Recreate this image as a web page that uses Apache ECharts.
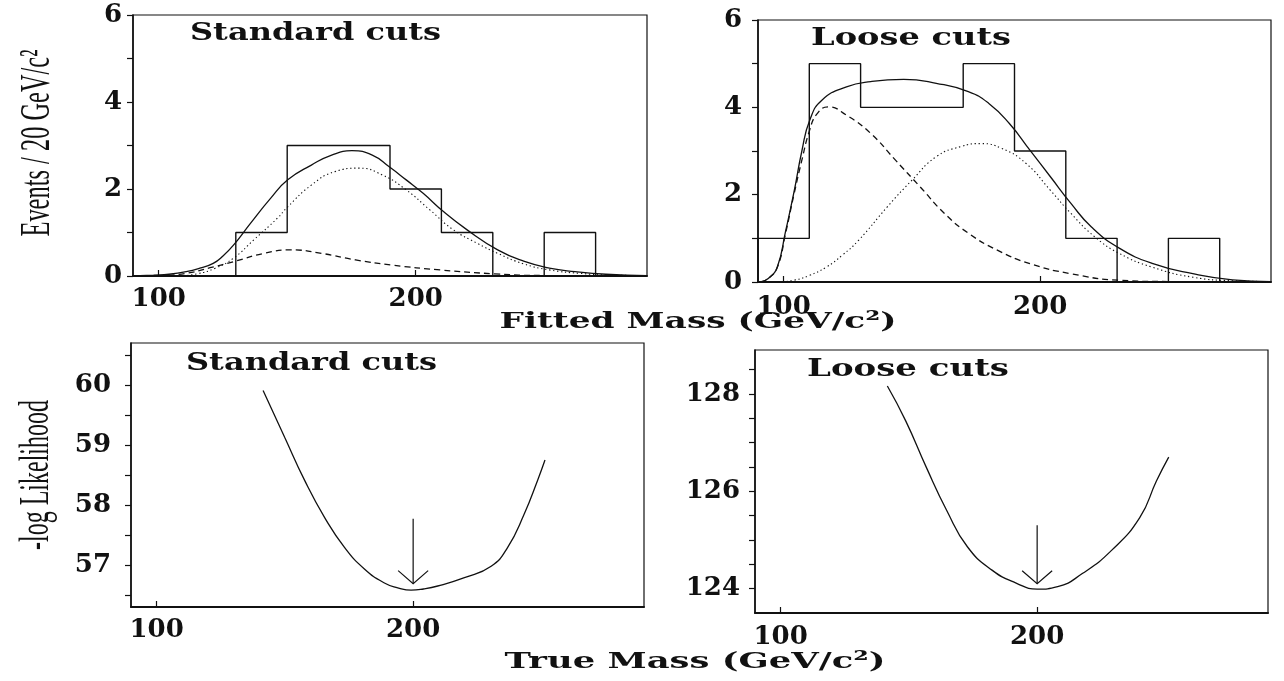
<!DOCTYPE html>
<html>
<head>
<meta charset="utf-8">
<script src="https://cdn.jsdelivr.net/npm/echarts@6/dist/echarts.min.js"></script>
<style>
  html, body { margin: 0; padding: 0; background: #fff; }
  #chart { width: 1284px; height: 681px; }
</style>
</head>
<body>
<div id="chart"></div>
<script>
// ---- Fitted-mass histograms (events per 20 GeV/c^2 bin) ----
const stdBinEdges = [130, 150, 170, 190, 210, 230, 250, 270];
const stdCounts = [1, 3, 3, 2, 1, 0, 1];
const looseBinEdges = [90, 110, 130, 150, 170, 190, 210, 230, 250, 270];
const looseCounts = [1, 5, 4, 4, 5, 3, 1, 0, 1];

// ---- Fit curves, standard cuts: total, top signal, background ----
const stdTotal = [[90,0],[98,0.02],[104,0.04],[110.7,0.1],[116,0.18],[121.2,0.29],[125,0.46],[129.1,0.71],[135.7,1.21],[143.6,1.79],[150.2,2.21],[159.4,2.55],[167.3,2.78],[175.2,2.88],[183.1,2.78],[189.7,2.51],[196.3,2.21],[202.9,1.9],[210.8,1.48],[220,1.06],[231.9,0.6],[242,0.34],[252,0.18],[262,0.1],[274,0.04],[290,0.01]];
const stdSignal = [[108,0],[115,0.05],[122,0.18],[129.1,0.41],[137,0.83],[146.2,1.33],[150.2,1.59],[159.4,2.09],[168.6,2.4],[177.9,2.48],[187.1,2.32],[196.3,1.98],[205.5,1.52],[214.7,1.06],[224,0.75],[231.9,0.52],[242,0.28],[252,0.14],[264,0.06],[276,0.02],[290,0.01]];
const stdBackground = [[100,0],[110.7,0.06],[120,0.19],[129.1,0.33],[141,0.52],[151.5,0.6],[163.4,0.52],[176.6,0.37],[191,0.25],[209.5,0.14],[230.6,0.05],[250,0.01],[290,0]];

// ---- Fit curves, loose cuts ----
const looseTotal = [[91,0],[94,0.08],[97.5,0.34],[100.7,1.15],[104,2.05],[107.1,3.0],[110.2,3.71],[115,4.17],[124.5,4.47],[134,4.59],[146.8,4.64],[159.5,4.55],[172,4.36],[180,4.09],[188,3.63],[196,3.02],[204,2.41],[212,1.8],[220,1.26],[231,0.77],[244,0.42],[259.5,0.19],[275,0.05],[290,0.01]];
const looseBackground = [[91,0],[94,0.08],[97.5,0.33],[100.7,1.1],[104,2.0],[107.1,2.79],[110,3.45],[113,3.85],[117.4,4.01],[124.5,3.82],[134,3.4],[143.6,2.79],[153.2,2.18],[162.7,1.57],[172.2,1.11],[183.3,0.73],[196,0.42],[212,0.19],[231,0.04],[250,0.01],[290,0]];
const looseSignal = [[98,0],[104,0.04],[110,0.15],[116.6,0.34],[123,0.62],[129.3,0.96],[140.4,1.72],[150,2.33],[159.5,2.87],[169,3.1],[177,3.17],[185,3.06],[194.4,2.72],[204,2.1],[212,1.57],[221.4,1.03],[231,0.65],[243.7,0.34],[259.5,0.11],[275,0.03],[290,0.01]];

// ---- -log Likelihood versus true mass ----
const stdLikelihood = [[141.5,59.91],[149.9,59.13],[157.7,58.41],[165.5,57.79],[173.3,57.29],[181.1,56.93],[188.8,56.7],[194,56.62],[199.2,56.58],[204,56.6],[209.6,56.65],[220,56.79],[230.4,56.98],[236.8,57.29],[243.3,57.85],[248.5,58.41],[251.4,58.75]];
const looseLikelihood = [[141.6,128.16],[148.8,127.44],[156.8,126.49],[164.8,125.6],[172.8,124.86],[182.4,124.38],[192,124.11],[200,123.99],[208,124.04],[217.6,124.31],[228.9,124.78],[240,125.46],[246.5,126.21],[251.3,126.7]];

// Arrows marking the fitted mass: [mass, arrow top, arrow tip]
const stdArrow = [200, 57.77, 56.69];
const looseArrow = [200, 125.3, 124.1];

// ---- Tick values ----
const massTicks = [100, 200];
const eventTicks = [0, 2, 4, 6];
const eventMinorTicks = [0, 1, 2, 3, 4, 5, 6];
const stdLikTicks = [57, 58, 59, 60];
const stdLikMinorTicks = [56.5, 57, 57.5, 58, 58.5, 59, 59.5, 60, 60.5];
const looseLikTicks = [124, 126, 128];
const looseLikMinorTicks = [124, 124.5, 125, 125.5, 126, 126.5, 127, 127.5, 128, 128.5];

const INK = '#111';
const TICK_FONT = 'DejaVu Serif';

function histogramOutline(edges, counts) {
  const pts = [[edges[0], 0]];
  counts.forEach((c, i) => { pts.push([edges[i], c], [edges[i + 1], c]); });
  pts.push([edges[edges.length - 1], 0]);
  return pts;
}

function labelStyle(margin) {
  return { margin, fontFamily: TICK_FONT, fontWeight: 'bold', fontSize: 26, color: INK, showMinLabel: true, showMaxLabel: true };
}

function massAxis(gridIndex, margin) {
  return {
    type: 'value', gridIndex, min: 90, max: 290,
    axisLine: { show: true, onZero: false, lineStyle: { color: INK, width: 2 } },
    axisTick: { show: true, inside: true, length: 6, customValues: massTicks, lineStyle: { color: INK, width: 1.2 } },
    axisLabel: Object.assign({ customValues: massTicks }, labelStyle(margin)),
    splitLine: { show: false }
  };
}

function valueAxis(gridIndex, min, max, labels, ticks, margin) {
  return {
    type: 'value', gridIndex, min, max,
    axisLine: { show: true, onZero: false, lineStyle: { color: INK, width: 1.6 } },
    axisTick: { show: true, inside: false, length: 6, customValues: ticks, lineStyle: { color: INK, width: 1.2 } },
    axisLabel: Object.assign({ customValues: labels }, labelStyle(margin)),
    splitLine: { show: false }
  };
}

function curve(data, xi, type) {
  const ls = { color: INK, width: 1.3 };
  if (type === 'dashed') ls.type = [6, 4];
  if (type === 'dotted') { ls.type = [1.3, 2.7]; ls.width = 1.1; }
  return {
    type: 'line', xAxisIndex: xi, yAxisIndex: xi, data, smooth: 0.5,
    showSymbol: false, symbol: 'none', silent: true,
    lineStyle: ls, z: 3
  };
}

function histogram(edges, counts, xi) {
  return {
    type: 'line', xAxisIndex: xi, yAxisIndex: xi, data: histogramOutline(edges, counts),
    showSymbol: false, symbol: 'none', silent: true,
    lineStyle: { color: INK, width: 1.4 }, z: 2
  };
}

function arrow(spec, xi) {
  return {
    type: 'custom', xAxisIndex: xi, yAxisIndex: xi, data: [spec], silent: true, z: 4,
    encode: { x: 0, y: [1, 2] },
    renderItem(params, api) {
      const top = api.coord([api.value(0), api.value(1)]);
      const tip = api.coord([api.value(0), api.value(2)]);
      const s = { stroke: INK, lineWidth: 1.2, fill: null };
      return {
        type: 'group',
        children: [
          { type: 'line', shape: { x1: top[0], y1: top[1], x2: tip[0], y2: tip[1] }, style: s },
          { type: 'polyline', shape: { points: [[tip[0] - 15, tip[1] - 13], [tip[0], tip[1]], [tip[0] + 15, tip[1] - 13]] }, style: s }
        ]
      };
    }
  };
}

// Text helpers: the captions use a wide face, so they are stretched to a set width.
const measureCtx = document.createElement('canvas').getContext('2d');
function textWidth(text, font) { measureCtx.font = font; return measureCtx.measureText(text).width; }

function caption(text, x, y, size, width, opts) {
  opts = opts || {};
  const family = opts.family || 'DejaVu Serif';
  const weight = opts.weight || 'normal';
  const font = weight + ' ' + size + 'px "' + family + '"';
  const sx = width / textWidth(text, font);
  return {
    type: 'text', x, y, rotation: opts.rotation || 0, scaleX: sx, scaleY: 1,
    silent: true, z: 10,
    style: {
      text, fill: INK, font,
      align: opts.align || 'left', verticalAlign: 'middle'
    }
  };
}

const chart = echarts.init(document.getElementById('chart'), null, { renderer: 'canvas' });

const gridBox = { show: true, borderColor: INK, borderWidth: 1.2, backgroundColor: 'transparent', containLabel: false };

chart.setOption({
  backgroundColor: '#fff',
  animation: false,
  grid: [
    Object.assign({ left: 133, top: 15, width: 514, height: 261 }, gridBox),
    Object.assign({ left: 758, top: 20, width: 513, height: 262 }, gridBox),
    Object.assign({ left: 131, top: 343, width: 513, height: 264 }, gridBox),
    Object.assign({ left: 755, top: 350, width: 513, height: 263 }, gridBox)
  ],
  xAxis: [
    massAxis(0, 10),
    massAxis(1, 12),
    massAxis(2, 10),
    massAxis(3, 11)
  ],
  yAxis: [
    valueAxis(0, 0, 6, eventTicks, eventMinorTicks, 11),
    valueAxis(1, 0, 6, eventTicks, eventMinorTicks, 16),
    valueAxis(2, 56.3, 60.7, stdLikTicks, stdLikMinorTicks, 20),
    valueAxis(3, 123.5, 128.9, looseLikTicks, looseLikMinorTicks, 15)
  ],
  series: [
    histogram(stdBinEdges, stdCounts, 0),
    curve(stdTotal, 0, 'solid'),
    curve(stdSignal, 0, 'dotted'),
    curve(stdBackground, 0, 'dashed'),
    histogram(looseBinEdges, looseCounts, 1),
    curve(looseTotal, 1, 'solid'),
    curve(looseBackground, 1, 'dashed'),
    curve(looseSignal, 1, 'dotted'),
    curve(stdLikelihood, 2, 'solid'),
    arrow(stdArrow, 2),
    curve(looseLikelihood, 3, 'solid'),
    arrow(looseArrow, 3)
  ],
  graphic: [
    caption('Standard cuts', 190, 34, 24, 251, { weight: 'bold' }),
    caption('Loose cuts', 811, 39, 24, 200, { weight: 'bold' }),
    caption('Standard cuts', 186, 364, 24, 251, { weight: 'bold' }),
    caption('Loose cuts', 807, 370, 24, 202, { weight: 'bold' }),
    caption('Fitted Mass (GeV/c\u00B2)', 698, 322, 23, 397, { align: 'center', weight: 'bold' }),
    caption('True Mass (GeV/c\u00B2)', 695, 662, 23, 381, { align: 'center', weight: 'bold' }),
    caption('Events / 20 GeV/c\u00B2', 38, 143, 42, 187, { align: 'center', family: 'Liberation Serif', rotation: Math.PI / 2 }),
    caption('-log Likelihood', 37, 475, 42, 150, { align: 'center', family: 'Liberation Serif', rotation: Math.PI / 2 })
  ]
});
</script>
</body>
</html>
